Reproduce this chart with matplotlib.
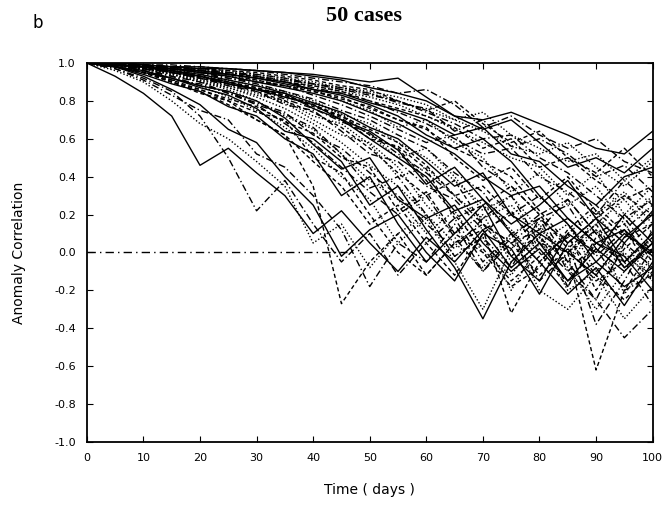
import matplotlib
matplotlib.use('Agg')
import matplotlib.pyplot as plt

days = [0, 5, 10, 15, 20, 25, 30, 35, 40, 45, 50, 55, 60, 65, 70, 75, 80, 85, 90, 95, 100]

# anomaly correlation for each of the 50 cases, read every 5 days
case01 = [1.00, 0.93, 0.84, 0.72, 0.46, 0.55, 0.42, 0.30, 0.10, 0.22, 0.05, -0.10, 0.08, -0.05, 0.12, -0.08, 0.05, -0.15, 0.02, -0.10, 0.05]
case02 = [1.00, 0.97, 0.92, 0.85, 0.72, 0.50, 0.22, 0.38, 0.15, -0.05, 0.10, -0.12, 0.05, 0.18, -0.05, 0.10, -0.15, 0.00, 0.12, -0.08, 0.02]
case03 = [1.00, 0.98, 0.95, 0.90, 0.85, 0.78, 0.70, 0.62, 0.35, -0.27, -0.05, 0.10, -0.12, 0.05, 0.15, -0.02, 0.10, -0.18, 0.05, 0.12, -0.10]
case04 = [1.00, 0.96, 0.90, 0.80, 0.68, 0.60, 0.48, 0.35, 0.05, 0.15, -0.08, 0.10, 0.20, -0.02, 0.08, -0.20, 0.05, 0.15, -0.10, 0.00, -0.15]
case05 = [1.00, 0.98, 0.93, 0.86, 0.78, 0.65, 0.58, 0.40, 0.25, -0.02, 0.12, 0.20, 0.00, -0.15, 0.10, 0.02, -0.22, 0.05, 0.18, -0.05, 0.10]
case06 = [1.00, 0.97, 0.91, 0.83, 0.75, 0.70, 0.52, 0.45, 0.30, 0.12, -0.18, 0.05, -0.05, 0.15, -0.10, 0.08, 0.20, -0.05, -0.25, 0.05, -0.08]
case07 = [1.00, 0.98, 0.95, 0.90, 0.84, 0.80, 0.70, 0.62, 0.48, 0.35, 0.15, 0.25, 0.05, -0.12, 0.10, 0.22, 0.00, -0.18, 0.08, 0.15, -0.05]
case08 = [1.00, 0.99, 0.96, 0.92, 0.88, 0.82, 0.75, 0.66, 0.55, 0.40, 0.28, 0.05, 0.18, -0.05, -0.30, 0.02, 0.15, -0.08, -0.30, -0.10, 0.08]
case09 = [1.00, 0.98, 0.94, 0.89, 0.85, 0.77, 0.72, 0.60, 0.52, 0.30, 0.40, 0.15, -0.05, 0.10, 0.25, -0.02, -0.15, 0.10, 0.00, 0.20, 0.05]
case10 = [1.00, 0.99, 0.97, 0.93, 0.88, 0.85, 0.78, 0.68, 0.58, 0.45, 0.32, 0.20, 0.30, 0.08, -0.10, 0.05, 0.18, 0.25, 0.02, -0.20, -0.12]
case11 = [1.00, 0.98, 0.95, 0.91, 0.86, 0.80, 0.74, 0.70, 0.50, 0.42, 0.20, 0.00, -0.12, 0.05, 0.12, -0.32, -0.05, 0.10, -0.20, 0.02, 0.15]
case12 = [1.00, 0.99, 0.97, 0.94, 0.90, 0.86, 0.80, 0.72, 0.65, 0.52, 0.38, 0.28, 0.10, 0.22, 0.00, -0.12, 0.08, -0.05, 0.12, -0.22, -0.02]
case13 = [1.00, 0.98, 0.96, 0.92, 0.87, 0.83, 0.76, 0.64, 0.60, 0.48, 0.25, 0.35, 0.12, -0.08, -0.35, -0.05, 0.10, 0.00, -0.12, 0.08, 0.20]
case14 = [1.00, 0.99, 0.96, 0.91, 0.89, 0.84, 0.79, 0.74, 0.62, 0.55, 0.42, 0.30, 0.15, 0.02, 0.18, 0.30, 0.05, -0.10, 0.05, -0.05, -0.28]
case15 = [1.00, 0.98, 0.95, 0.90, 0.86, 0.81, 0.77, 0.69, 0.63, 0.50, 0.45, 0.22, 0.32, 0.10, 0.00, -0.18, -0.08, 0.12, 0.25, 0.10, -0.02]
case16 = [1.00, 0.99, 0.97, 0.95, 0.91, 0.87, 0.82, 0.76, 0.68, 0.58, 0.46, 0.35, 0.20, 0.05, -0.08, 0.10, -0.20, -0.30, -0.12, -0.35, -0.18]
case17 = [1.00, 0.98, 0.95, 0.92, 0.88, 0.85, 0.80, 0.71, 0.57, 0.44, 0.50, 0.28, 0.18, 0.25, 0.05, -0.10, 0.02, -0.15, -0.05, 0.10, 0.00]
case18 = [1.00, 0.99, 0.96, 0.93, 0.90, 0.84, 0.78, 0.73, 0.66, 0.52, 0.34, 0.40, 0.20, -0.02, 0.08, -0.08, 0.18, 0.05, -0.38, -0.15, 0.12]
case19 = [1.00, 0.99, 0.98, 0.95, 0.92, 0.89, 0.85, 0.80, 0.74, 0.66, 0.55, 0.42, 0.30, 0.38, 0.15, 0.05, -0.12, 0.02, 0.15, -0.08, 0.05]
case20 = [1.00, 0.99, 0.97, 0.94, 0.91, 0.88, 0.84, 0.79, 0.70, 0.62, 0.58, 0.45, 0.25, 0.10, 0.20, -0.05, 0.08, -0.20, -0.10, 0.05, -0.15]
case21 = [1.00, 0.99, 0.98, 0.96, 0.93, 0.90, 0.86, 0.82, 0.78, 0.70, 0.60, 0.50, 0.40, 0.22, 0.28, 0.10, -0.05, -0.22, -0.08, -0.28, -0.05]
case22 = [1.00, 0.99, 0.97, 0.95, 0.92, 0.88, 0.85, 0.78, 0.75, 0.64, 0.52, 0.48, 0.35, 0.28, 0.12, 0.20, 0.30, 0.15, -0.02, 0.12, 0.25]
case23 = [1.00, 0.99, 0.98, 0.95, 0.93, 0.90, 0.87, 0.83, 0.77, 0.72, 0.62, 0.55, 0.38, 0.20, 0.02, -0.15, -0.02, 0.08, -0.12, -0.25, -0.10]
case24 = [1.00, 0.99, 0.97, 0.94, 0.90, 0.87, 0.83, 0.80, 0.72, 0.68, 0.57, 0.40, 0.45, 0.30, 0.18, 0.25, 0.08, -0.05, 0.20, 0.32, 0.15]
case25 = [1.00, 0.99, 0.98, 0.96, 0.94, 0.91, 0.88, 0.84, 0.79, 0.74, 0.66, 0.60, 0.48, 0.35, 0.42, 0.20, 0.10, 0.18, 0.05, -0.02, -0.20]
case26 = [1.00, 0.99, 0.98, 0.95, 0.92, 0.89, 0.86, 0.81, 0.76, 0.69, 0.63, 0.52, 0.42, 0.30, 0.15, 0.05, 0.12, 0.28, 0.10, 0.18, 0.00]
case27 = [1.00, 0.99, 0.97, 0.95, 0.93, 0.90, 0.86, 0.83, 0.78, 0.71, 0.60, 0.56, 0.44, 0.18, 0.25, 0.35, 0.20, 0.02, -0.15, -0.05, 0.08]
case28 = [1.00, 0.99, 0.98, 0.96, 0.93, 0.91, 0.88, 0.85, 0.80, 0.73, 0.68, 0.58, 0.50, 0.38, 0.25, 0.12, -0.05, 0.10, 0.22, -0.02, -0.12]
case29 = [1.00, 0.99, 0.98, 0.95, 0.93, 0.89, 0.86, 0.84, 0.76, 0.70, 0.64, 0.54, 0.36, 0.45, 0.28, 0.15, 0.25, 0.38, 0.18, 0.05, 0.22]
case30 = [1.00, 0.99, 0.98, 0.96, 0.94, 0.92, 0.89, 0.85, 0.81, 0.75, 0.70, 0.62, 0.55, 0.42, 0.32, 0.10, 0.18, -0.10, -0.25, -0.45, -0.30]
case31 = [1.00, 0.99, 0.98, 0.96, 0.93, 0.90, 0.87, 0.82, 0.78, 0.72, 0.65, 0.58, 0.46, 0.30, 0.35, 0.20, 0.05, 0.00, -0.62, -0.20, 0.02]
case32 = [1.00, 0.99, 0.97, 0.95, 0.92, 0.89, 0.86, 0.82, 0.79, 0.73, 0.62, 0.50, 0.55, 0.40, 0.22, 0.30, 0.12, 0.00, 0.15, 0.28, 0.10]
case33 = [1.00, 0.99, 0.98, 0.97, 0.95, 0.93, 0.90, 0.87, 0.84, 0.80, 0.74, 0.68, 0.60, 0.52, 0.40, 0.30, 0.35, 0.18, 0.05, 0.12, -0.02]
case34 = [1.00, 0.99, 0.98, 0.97, 0.95, 0.92, 0.90, 0.88, 0.83, 0.78, 0.72, 0.65, 0.58, 0.62, 0.45, 0.35, 0.20, 0.28, 0.10, -0.08, 0.05]
case35 = [1.00, 1.00, 0.99, 0.97, 0.96, 0.94, 0.91, 0.88, 0.85, 0.82, 0.76, 0.70, 0.65, 0.55, 0.48, 0.40, 0.22, 0.05, 0.18, 0.30, 0.20]
case36 = [1.00, 0.99, 0.98, 0.96, 0.95, 0.93, 0.91, 0.88, 0.86, 0.80, 0.75, 0.66, 0.70, 0.58, 0.50, 0.32, 0.42, 0.25, 0.35, 0.15, 0.30]
case37 = [1.00, 0.99, 0.98, 0.97, 0.95, 0.94, 0.92, 0.89, 0.86, 0.83, 0.78, 0.72, 0.62, 0.55, 0.60, 0.48, 0.30, 0.15, -0.05, -0.18, -0.08]
case38 = [1.00, 1.00, 0.99, 0.98, 0.96, 0.94, 0.92, 0.90, 0.87, 0.84, 0.80, 0.74, 0.68, 0.60, 0.52, 0.55, 0.40, 0.32, 0.20, 0.38, 0.25]
case39 = [1.00, 0.99, 0.98, 0.97, 0.95, 0.93, 0.90, 0.88, 0.85, 0.81, 0.77, 0.70, 0.66, 0.50, 0.38, 0.45, 0.28, 0.40, 0.22, 0.08, 0.15]
case40 = [1.00, 1.00, 0.99, 0.97, 0.96, 0.95, 0.93, 0.90, 0.88, 0.85, 0.82, 0.78, 0.72, 0.65, 0.58, 0.50, 0.45, 0.30, 0.42, 0.20, 0.35]
case41 = [1.00, 0.99, 0.98, 0.97, 0.96, 0.94, 0.92, 0.90, 0.86, 0.84, 0.79, 0.75, 0.70, 0.62, 0.66, 0.52, 0.48, 0.35, 0.25, 0.40, 0.45]
case42 = [1.00, 1.00, 0.99, 0.98, 0.97, 0.95, 0.93, 0.91, 0.89, 0.86, 0.83, 0.80, 0.74, 0.68, 0.60, 0.62, 0.50, 0.42, 0.30, 0.18, 0.28]
case43 = [1.00, 0.99, 0.99, 0.97, 0.96, 0.94, 0.93, 0.90, 0.88, 0.85, 0.80, 0.76, 0.72, 0.66, 0.55, 0.60, 0.45, 0.50, 0.38, 0.28, 0.35]
case44 = [1.00, 1.00, 0.99, 0.98, 0.96, 0.95, 0.93, 0.91, 0.89, 0.86, 0.84, 0.80, 0.75, 0.70, 0.64, 0.56, 0.52, 0.58, 0.45, 0.35, 0.48]
case45 = [1.00, 1.00, 0.99, 0.98, 0.97, 0.97, 0.96, 0.95, 0.94, 0.92, 0.90, 0.92, 0.82, 0.72, 0.70, 0.74, 0.68, 0.62, 0.55, 0.52, 0.64]
case46 = [1.00, 1.00, 0.99, 0.99, 0.98, 0.97, 0.96, 0.94, 0.92, 0.90, 0.88, 0.84, 0.86, 0.78, 0.66, 0.72, 0.62, 0.55, 0.60, 0.48, 0.42]
case47 = [1.00, 1.00, 0.99, 0.98, 0.97, 0.96, 0.95, 0.93, 0.91, 0.88, 0.86, 0.80, 0.75, 0.80, 0.68, 0.58, 0.64, 0.50, 0.42, 0.55, 0.40]
case48 = [1.00, 0.99, 0.99, 0.98, 0.97, 0.96, 0.94, 0.92, 0.90, 0.87, 0.85, 0.82, 0.78, 0.70, 0.74, 0.62, 0.55, 0.48, 0.52, 0.38, 0.50]
case49 = [1.00, 1.00, 0.99, 0.98, 0.98, 0.97, 0.96, 0.95, 0.93, 0.91, 0.87, 0.84, 0.80, 0.72, 0.65, 0.70, 0.58, 0.45, 0.50, 0.42, 0.55]
case50 = [1.00, 0.99, 0.98, 0.98, 0.96, 0.95, 0.94, 0.92, 0.89, 0.87, 0.84, 0.79, 0.76, 0.64, 0.70, 0.56, 0.60, 0.52, 0.40, 0.46, 0.32]

cases = [case01, case02, case03, case04, case05, case06, case07, case08, case09, case10,
         case11, case12, case13, case14, case15, case16, case17, case18, case19, case20,
         case21, case22, case23, case24, case25, case26, case27, case28, case29, case30,
         case31, case32, case33, case34, case35, case36, case37, case38, case39, case40,
         case41, case42, case43, case44, case45, case46, case47, case48, case49, case50]

zero_line_days = [0, 46]
zero_line_vals = [0.0, 0.0]

y_ticks = [1.0, 0.8, 0.6, 0.4, 0.2, 0.0, -0.2, -0.4, -0.6, -0.8, -1.0]
y_labels = ['1.0', '0.8', '0.6', '0.4', '0.2', '0.0', '-0.2', '-0.4', '-0.6', '-0.8', '-1.0']
x_ticks = [0, 10, 20, 30, 40, 50, 60, 70, 80, 90, 100]

styles = ['-', (0, (5, 2, 1, 2)), (0, (3, 2)), (0, (1, 1.5))]

fig = plt.figure(figsize=(6.68, 5.08), dpi=100)
ax = fig.add_axes([0.130, 0.130, 0.847, 0.746])

for i, c in enumerate(cases):
    ax.plot(days, c, color='black', lw=1.0, ls=styles[i % 4])

ax.plot(zero_line_days, zero_line_vals, color='black', lw=1.0, ls=(0, (6, 3, 1, 3)))

ax.set_xlim(0, 100)
ax.set_ylim(-1, 1)
ax.set_xticks(x_ticks)
ax.set_yticks(y_ticks)
ax.set_yticklabels(y_labels)
ax.tick_params(direction='in', length=4, width=0.8, labelsize=8,
               top=True, right=True, pad=8)
for s in ax.spines.values():
    s.set_linewidth(1.3)

ax.set_xlabel('Time ( days )', fontsize=10, labelpad=14)
ax.set_ylabel('Anomaly Correlation', fontsize=10, labelpad=20)

fig.text(0.545, 0.968, '50 cases', family='Liberation Serif', fontsize=16,
         weight='bold', ha='center', va='center')
fig.text(0.057, 0.955, 'b', fontsize=12, ha='center', va='center')

fig.savefig('out.png', dpi=100)
